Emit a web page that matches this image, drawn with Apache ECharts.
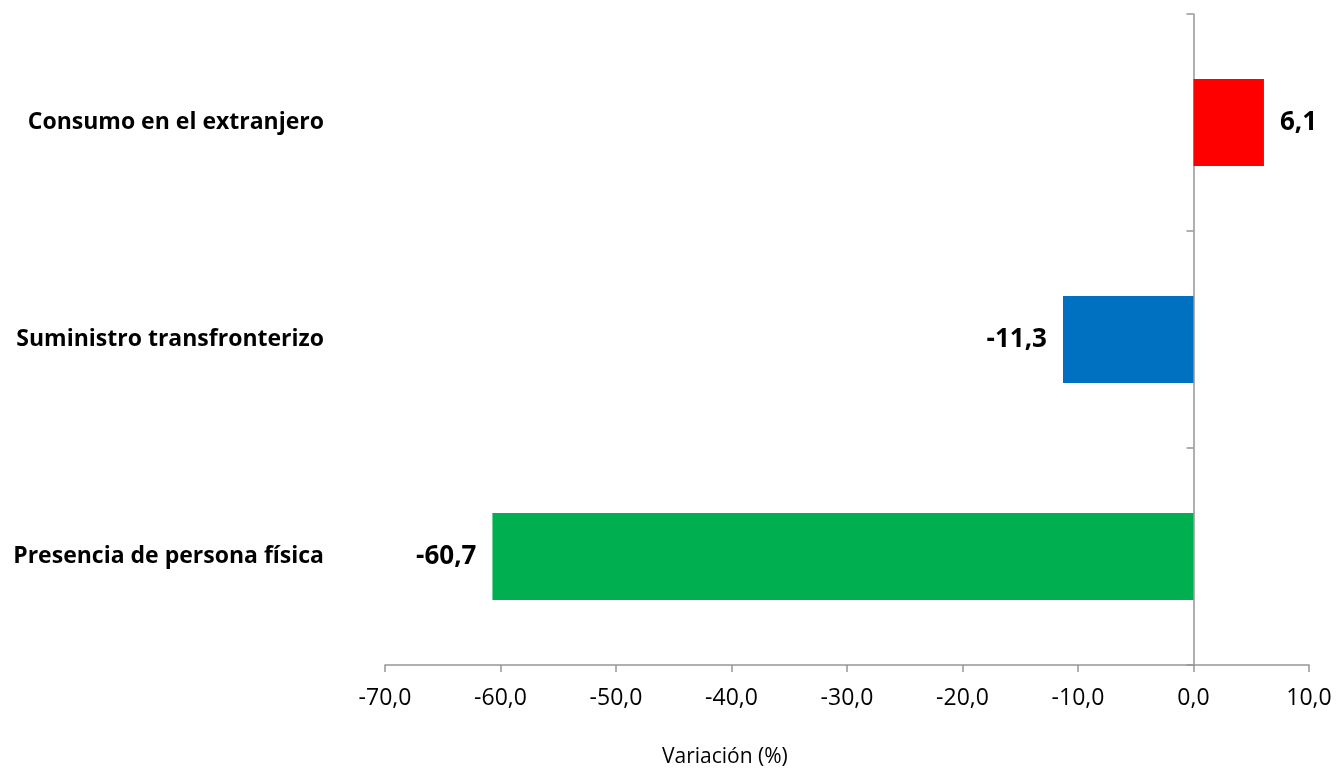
<!DOCTYPE html>
<html><head><meta charset="utf-8">
<script src="https://cdn.jsdelivr.net/npm/echarts@6/dist/echarts.min.js"></script>
<style>html,body{margin:0;padding:0;background:#fff}#c{width:1339px;height:774px}</style>
</head><body><div id="c"></div>
<script>
const categories = ['Presencia de persona física', 'Suministro transfronterizo', 'Consumo en el extranjero'];
const values = [-60.7, -11.3, 6.1];
const colors = ['#00B050', '#0070C0', '#FF0000'];
const xTitle = 'Variación (%)';

const chart = echarts.init(document.getElementById('c'));
const fmt = v => v.toFixed(1).replace('.', ',');
chart.setOption({
  animation: false,
  grid: {left: 385, right: 30, top: 14, bottom: 109},
  xAxis: {
    type: 'value', min: -70, max: 10, interval: 10,
    splitLine: {show: false},
    axisLine: {show: true, onZero: false, lineStyle: {color: '#969696', width: 1.5}},
    axisTick: {show: true, length: 7, lineStyle: {color: '#969696', width: 1.5}},
    axisLabel: {formatter: fmt, color: '#000', fontFamily: 'Open Sans', fontSize: 23, margin: 22}
  },
  yAxis: [{
    type: 'category', data: categories,
    axisLine: {show: true, onZero: true, lineStyle: {color: '#969696', width: 1.5}},
    axisTick: {show: true, length: 7, lineStyle: {color: '#969696', width: 1.5}},
    axisLabel: {show: false}
  }, {
    type: 'category', data: categories, position: 'left',
    axisLine: {show: false, onZero: false}, axisTick: {show: false},
    axisLabel: {color: '#000', fontFamily: 'Open Sans', fontWeight: 'bold', fontSize: 23, margin: 61}
  }],
  graphic: [{type: 'text', left: 662, top: 747, style: {text: xTitle, fill: '#000', font: '21px "Open Sans"'}}],
  series: [{
    type: 'bar', yAxisIndex: 0, barWidth: '40%',
    data: values.map((v, i) => ({
      value: v,
      itemStyle: {color: colors[i]},
      label: {position: v >= 0 ? 'right' : 'left'}
    })),
    label: {show: true, formatter: p => fmt(p.value), color: '#000', fontFamily: 'Open Sans', fontWeight: 'bold', fontSize: 26, distance: 16}
  }]
});
</script></body></html>
